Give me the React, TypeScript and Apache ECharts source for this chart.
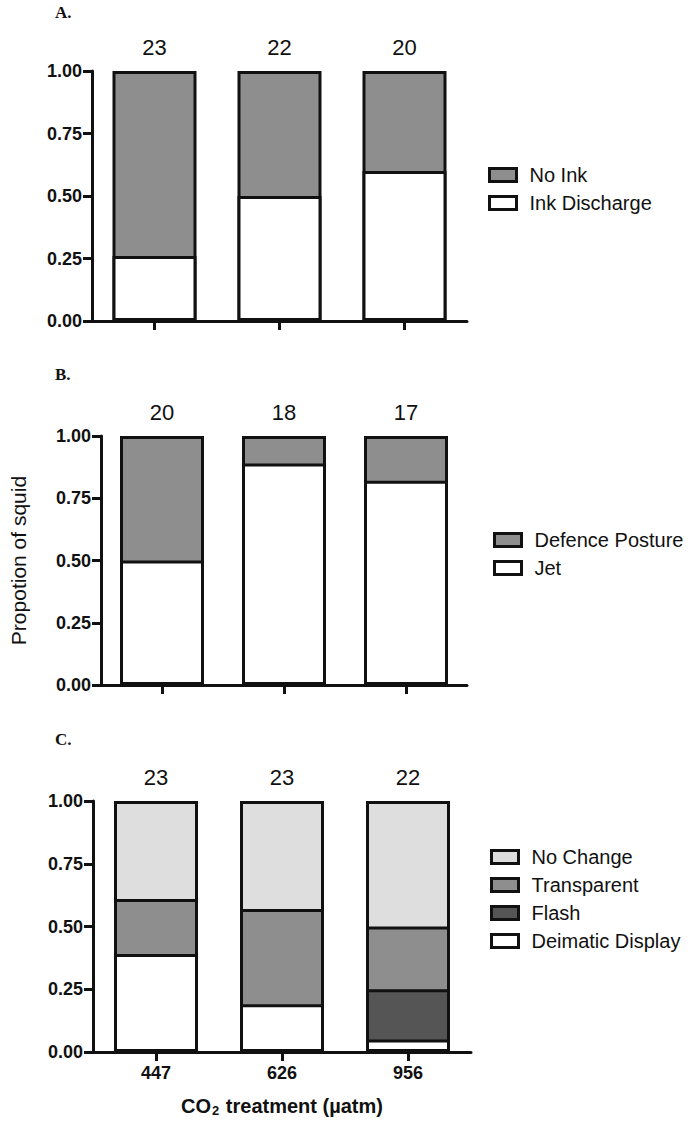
import React, { useEffect, useRef } from "react";
import * as echarts from "echarts";

// Categories (CO2 treatment, µatm)
const categories = ["447", "626", "956"];

// Panel A (proportions, bottom segment first)
const nA = [23, 22, 20];
const inkDischarge = [0.26, 0.5, 0.6];
const noInk = [0.74, 0.5, 0.4];

// Panel B
const nB = [20, 18, 17];
const jet = [0.5, 0.89, 0.82];
const defencePosture = [0.5, 0.11, 0.18];

// Panel C
const nC = [23, 23, 22];
const deimaticDisplay = [0.39, 0.19, 0.05];
const flash = [0, 0, 0.2];
const transparent = [0.22, 0.38, 0.25];
const noChange = [0.39, 0.43, 0.5];

const yTicks = [0, 0.25, 0.5, 0.75, 1];

const FONT = "'Liberation Sans', Arial, Helvetica, sans-serif";
const INK = "#111";
const GRAY = "#8e8e8e";
const LIGHT = "#dedede";
const DARK = "#555555";
const BAR_W = 84;

type Seg = { name: string; data: number[]; color: string };

export default function App() {
  const ref = useRef<HTMLDivElement>(null);

  useEffect(() => {
    if (!ref.current) return;
    const chart = echarts.init(ref.current, null, { renderer: "svg" });

    const grids = [
      { left: 92, top: 71, width: 375, height: 250 },
      { left: 92, top: 436, width: 375, height: 249 },
      { left: 93, top: 801, width: 378, height: 251 },
    ];

    const panels: { segs: Seg[]; counts: number[] }[] = [
      {
        segs: [
          { name: "Ink Discharge", data: inkDischarge, color: "#ffffff" },
          { name: "No Ink", data: noInk, color: GRAY },
        ],
        counts: nA,
      },
      {
        segs: [
          { name: "Jet", data: jet, color: "#ffffff" },
          { name: "Defence Posture", data: defencePosture, color: GRAY },
        ],
        counts: nB,
      },
      {
        segs: [
          { name: "Deimatic Display", data: deimaticDisplay, color: "#ffffff" },
          { name: "Flash", data: flash, color: DARK },
          { name: "Transparent", data: transparent, color: GRAY },
          { name: "No Change", data: noChange, color: LIGHT },
        ],
        counts: nC,
      },
    ];

    const yAxes = grids.map((_, i) => ({
      type: "value",
      gridIndex: i,
      min: yTicks[0],
      max: yTicks[yTicks.length - 1],
      interval: 0.25,
      axisLine: { show: true, lineStyle: { color: INK, width: 3 } },
      axisTick: { show: true, length: 9, lineStyle: { color: INK, width: 3 } },
      splitLine: { show: false },
      axisLabel: {
        formatter: (v: number) => v.toFixed(2),
        fontFamily: FONT,
        fontWeight: "bold",
        fontSize: 18,
        color: INK,
        margin: 10,
      },
      ...(i === 1
        ? {
            name: "Propotion of squid",
            nameLocation: "middle",
            nameGap: 72,
            nameTextStyle: { fontFamily: FONT, fontSize: 21, color: INK },
          }
        : {}),
    }));

    const xAxes = grids.map((_, i) => ({
      type: "category",
      gridIndex: i,
      data: categories,
      axisLine: { show: true, lineStyle: { color: INK, width: 3 } },
      axisTick: {
        show: true,
        alignWithLabel: true,
        length: 9,
        lineStyle: { color: INK, width: 3 },
      },
      axisLabel: {
        show: i === 2,
        fontFamily: FONT,
        fontWeight: "bold",
        fontSize: 18,
        color: INK,
        margin: 12,
      },
      ...(i === 2
        ? {
            name: "{b|CO}{s|2}{b| treatment (µatm)}",
            nameLocation: "middle",
            nameGap: 42,
            nameTextStyle: {
              rich: {
                b: { fontFamily: FONT, fontWeight: "bold", fontSize: 20, color: INK },
                s: {
                  fontFamily: FONT,
                  fontWeight: "bold",
                  fontSize: 13,
                  color: INK,
                  padding: [10, 1, 0, 1],
                },
              },
            },
          }
        : {}),
    }));

    // Each segment is drawn as an overlapping bar from 0 up to its cumulative level,
    // tallest first, so every boundary gets one crisp 3px border line.
    const series: any[] = [];
    panels.forEach((panel, gi) => {
      const cum: number[][] = [];
      panel.segs.forEach((s, si) => {
        cum.push(s.data.map((v, k) => (si === 0 ? v : cum[si - 1][k] + v)));
      });
      for (let si = panel.segs.length - 1; si >= 0; si--) {
        const s = panel.segs[si];
        const isTop = si === panel.segs.length - 1;
        series.push({
          name: s.name,
          type: "bar",
          xAxisIndex: gi,
          yAxisIndex: gi,
          barWidth: BAR_W,
          barGap: "-100%",
          data: cum[si].map((v, k) => (s.data[k] === 0 ? null : +v.toFixed(4))),
          itemStyle: { color: s.color, borderColor: INK, borderWidth: 3 },
          emphasis: { disabled: true },
          label: isTop
            ? {
                show: true,
                position: "top",
                distance: 13,
                fontFamily: FONT,
                fontSize: 22,
                color: INK,
                formatter: (p: any) => String(panel.counts[p.dataIndex]),
              }
            : { show: false },
        });
      }
    });

    const legendBase = {
      orient: "vertical",
      icon: "rect",
      itemWidth: 27,
      itemHeight: 13,
      itemGap: 8,
      padding: 0,
      selectedMode: false,
      itemStyle: { borderColor: INK, borderWidth: 3 },
      textStyle: { fontFamily: FONT, fontSize: 20, color: INK, padding: [0, 0, 0, 8] },
    };

    chart.setOption({
      animation: false,
      backgroundColor: "#fff",
      grid: grids,
      xAxis: xAxes,
      yAxis: yAxes,
      legend: [
        { ...legendBase, left: 488, top: 165, data: ["No Ink", "Ink Discharge"] },
        { ...legendBase, left: 493, top: 530, data: ["Defence Posture", "Jet"] },
        {
          ...legendBase,
          left: 490,
          top: 847,
          data: ["No Change", "Transparent", "Flash", "Deimatic Display"],
        },
      ],
      graphic: [
        { type: "text", left: 55, top: 4, style: { text: "A.", font: "bold 17px 'Liberation Serif', serif", fill: INK } },
        { type: "text", left: 55, top: 366, style: { text: "B.", font: "bold 17px 'Liberation Serif', serif", fill: INK } },
        { type: "text", left: 55, top: 731, style: { text: "C.", font: "bold 17px 'Liberation Serif', serif", fill: INK } },
      ],
      series,
    });

    return () => chart.dispose();
  }, []);

  return (
    <div
      ref={ref}
      style={{ position: "absolute", left: 0, top: 0, width: 692, height: 1122, background: "#fff" }}
    />
  );
}
